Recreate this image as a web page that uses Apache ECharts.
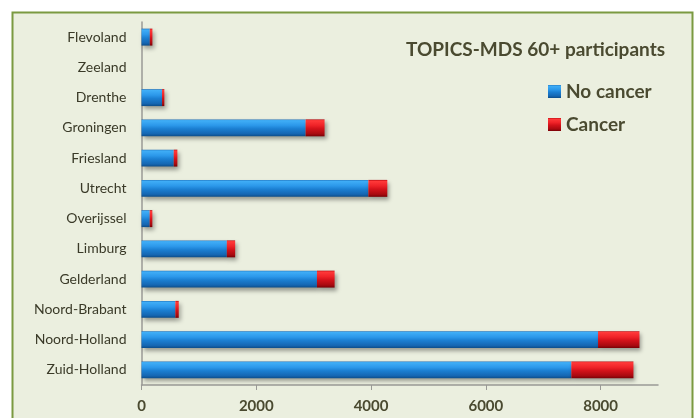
<!DOCTYPE html>
<html>
<head>
<meta charset="utf-8">
<script src="https://cdn.jsdelivr.net/npm/echarts@6/dist/echarts.min.js"></script>
<style>
html,body{margin:0;padding:0;background:#fff;}
#c{width:697px;height:418px;}
</style>
</head>
<body>
<div id="c"></div>
<script>
var categories = ['Flevoland','Zeeland','Drenthe','Groningen','Friesland','Utrecht','Overijssel','Limburg','Gelderland','Noord-Brabant','Noord-Holland','Zuid-Holland'];
var noCancer = [145, 0, 358, 2860, 562, 3953, 143, 1487, 3057, 590, 7955, 7490];
var cancer   = [45, 0, 40, 330, 63, 330, 46, 145, 308, 59, 722, 1082];
var xTicks = [0, 2000, 4000, 6000, 8000];

var chart = echarts.init(document.getElementById('c'));
var blue = new echarts.graphic.LinearGradient(0,0,0,1,[
  {offset:0,color:'#1d6cb5'},{offset:0.07,color:'#40aef7'},{offset:0.35,color:'#2c98ea'},
  {offset:0.55,color:'#1b7fd2'},{offset:0.85,color:'#1566b2'},{offset:1,color:'#0c4c88'}]);
var red = new echarts.graphic.LinearGradient(0,0,0,1,[
  {offset:0,color:'#b00008'},{offset:0.07,color:'#ff3a3a'},{offset:0.35,color:'#ef2328'},
  {offset:0.55,color:'#d3121a'},{offset:0.85,color:'#a80a10'},{offset:1,color:'#780006'}]);
var fam = 'Lato, "Open Sans", sans-serif';
chart.setOption({
  backgroundColor:'#fff',
  animation:false,
  graphic:[{type:'rect',z:-10,silent:true,shape:{x:12.5,y:12.5,width:680,height:420},
    style:{fill:'#ebefdf',stroke:'#7b9a41',lineWidth:2}}],
  title:{text:'TOPICS-MDS 60+ participants',left:401,top:35,
    textStyle:{fontFamily:fam,fontWeight:'bold',fontSize:19,color:'#4a4a30'}},
  legend:{orient:'vertical',left:548,top:82,padding:0,itemWidth:13,itemHeight:13,itemGap:14,
    icon:'rect',textStyle:{fontFamily:fam,fontWeight:'bold',fontSize:19,color:'#4a4a30'},
    data:['No cancer','Cancer']},
  grid:{left:141.5,right:39,top:22,bottom:33,containLabel:false},
  xAxis:{type:'value',min:0,max:9000,interval:2000,
    axisLine:{show:true,lineStyle:{color:'#9a9a96',width:1.5}},
    axisTick:{show:true,length:5,customValues:xTicks,lineStyle:{color:'#9a9a96'}},
    axisLabel:{customValues:xTicks,margin:14,formatter:function(v){return String(v);},
      fontFamily:fam,fontWeight:'bold',fontSize:15,color:'#4a4a30'},
    splitLine:{show:false}},
  yAxis:{type:'category',inverse:true,data:categories,
    axisLine:{show:true,lineStyle:{color:'#9a9a96',width:1.5}},
    axisTick:{show:false},
    axisLabel:{margin:15,fontFamily:fam,fontSize:14,color:'#3a3a28'}},
  series:[
    {name:'No cancer',type:'bar',stack:'a',data:noCancer,barWidth:'56%',
      itemStyle:{color:blue,shadowColor:'rgba(0,0,0,0.35)',shadowBlur:4,shadowOffsetX:2,shadowOffsetY:3}},
    {name:'Cancer',type:'bar',stack:'a',data:cancer,barWidth:'56%',
      itemStyle:{color:red,shadowColor:'rgba(0,0,0,0.35)',shadowBlur:4,shadowOffsetX:2,shadowOffsetY:3}}
  ]
});
</script>
</body>
</html>
